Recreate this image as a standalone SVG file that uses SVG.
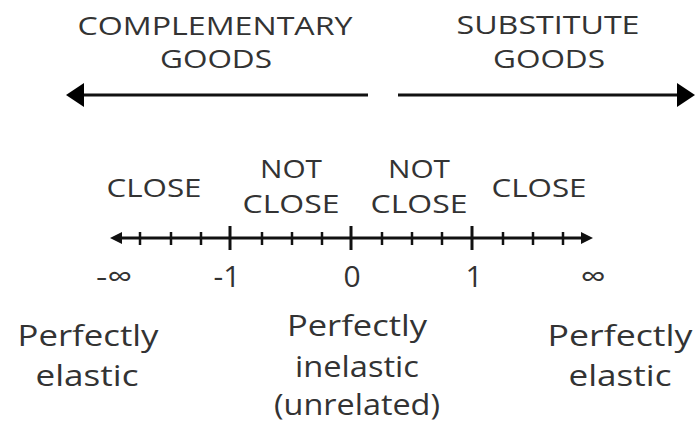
<svg xmlns="http://www.w3.org/2000/svg" width="695" height="425" viewBox="0 0 695 425">
<defs>
<style>
.cap{font-family:"Open Sans","DejaVu Sans",sans-serif;font-size:26px;fill:#333;text-anchor:middle}
.lbl{font-family:"Open Sans","DejaVu Sans",sans-serif;font-size:29px;fill:#333;text-anchor:middle}
.num{font-family:"Open Sans","DejaVu Sans",sans-serif;font-size:30px;fill:#333;text-anchor:middle}
.ln{stroke:#111;stroke-width:3;fill:none}
.tk{stroke:#111;stroke-width:2.5}
.tkM{stroke:#111;stroke-width:3}
</style>
<marker id="bigHead" viewBox="0 0 18 24" refX="0" refY="12" markerWidth="18" markerHeight="24" markerUnits="userSpaceOnUse" orient="auto">
<path d="M0,0 L18,12 L0,24 Z" fill="#000"/>
</marker>
<marker id="smallHead" viewBox="0 0 12 12" refX="0" refY="6" markerWidth="12" markerHeight="12" markerUnits="userSpaceOnUse" orient="auto">
<path d="M0,0 L12,6 L0,12 Z" fill="#111"/>
</marker>
</defs>
<rect width="695" height="425" fill="#fff"/>

<g id="complementary">
<text class="cap" x="215" y="35" textLength="275" lengthAdjust="spacingAndGlyphs">COMPLEMENTARY</text>
<text class="cap" x="216" y="68" textLength="112" lengthAdjust="spacingAndGlyphs">GOODS</text>
</g>
<g id="substitute">
<text class="cap" x="548" y="34" textLength="183" lengthAdjust="spacingAndGlyphs">SUBSTITUTE</text>
<text class="cap" x="549" y="68" textLength="112" lengthAdjust="spacingAndGlyphs">GOODS</text>
</g>

<g id="connectors">
<line class="ln" x1="368" y1="95" x2="84" y2="95" marker-end="url(#bigHead)"/>
<line class="ln" x1="398" y1="95" x2="677" y2="95" marker-end="url(#bigHead)"/>
<line class="ln" x1="351" y1="238" x2="122" y2="238" marker-end="url(#smallHead)"/>
<line class="ln" x1="351" y1="238" x2="581" y2="238" marker-end="url(#smallHead)"/>
</g>

<g id="ticks">
<line class="tk" x1="140" y1="232" x2="140" y2="245"/>
<line class="tk" x1="171" y1="232" x2="171" y2="245"/>
<line class="tk" x1="201" y1="232" x2="201" y2="245"/>
<line class="tkM" x1="230" y1="226" x2="230" y2="250"/>
<line class="tk" x1="262" y1="232" x2="262" y2="245"/>
<line class="tk" x1="292" y1="232" x2="292" y2="245"/>
<line class="tk" x1="322" y1="232" x2="322" y2="245"/>
<line class="tkM" x1="351" y1="226" x2="351" y2="250"/>
<line class="tk" x1="382" y1="232" x2="382" y2="245"/>
<line class="tk" x1="412" y1="232" x2="412" y2="245"/>
<line class="tk" x1="442" y1="232" x2="442" y2="245"/>
<line class="tkM" x1="472" y1="226" x2="472" y2="250"/>
<line class="tk" x1="503" y1="232" x2="503" y2="245"/>
<line class="tk" x1="533" y1="232" x2="533" y2="245"/>
<line class="tk" x1="563" y1="232" x2="563" y2="245"/>
</g>

<g id="close-left">
<text class="cap" x="154" y="197" textLength="95" lengthAdjust="spacingAndGlyphs">CLOSE</text>
</g>
<g id="notclose-left">
<text class="cap" x="291" y="178" textLength="62" lengthAdjust="spacingAndGlyphs">NOT</text>
<text class="cap" x="291" y="213" textLength="97" lengthAdjust="spacingAndGlyphs">CLOSE</text>
</g>
<g id="notclose-right">
<text class="cap" x="419" y="178" textLength="62" lengthAdjust="spacingAndGlyphs">NOT</text>
<text class="cap" x="419" y="213" textLength="97" lengthAdjust="spacingAndGlyphs">CLOSE</text>
</g>
<g id="close-right">
<text class="cap" x="539" y="197" textLength="95" lengthAdjust="spacingAndGlyphs">CLOSE</text>
</g>

<g id="numbers">
<text class="num" x="114" y="287" textLength="36" lengthAdjust="spacingAndGlyphs">-∞</text>
<text class="num" x="227" y="287">-1</text>
<text class="num" x="352" y="287">0</text>
<text class="num" x="474" y="287">1</text>
<text class="num" x="593" y="287" textLength="25" lengthAdjust="spacingAndGlyphs">∞</text>
</g>

<g id="elastic-left">
<text class="lbl" x="88" y="346" textLength="141" lengthAdjust="spacingAndGlyphs">Perfectly</text>
<text class="lbl" x="87" y="386" textLength="103" lengthAdjust="spacingAndGlyphs">elastic</text>
</g>
<g id="inelastic">
<text class="lbl" x="357" y="336" textLength="140" lengthAdjust="spacingAndGlyphs">Perfectly</text>
<text class="lbl" x="357" y="377" textLength="124" lengthAdjust="spacingAndGlyphs">inelastic</text>
<text class="lbl" x="357" y="415" textLength="166" lengthAdjust="spacingAndGlyphs">(unrelated)</text>
</g>
<g id="elastic-right">
<text class="lbl" x="620" y="346" textLength="145" lengthAdjust="spacingAndGlyphs">Perfectly</text>
<text class="lbl" x="620" y="386" textLength="103" lengthAdjust="spacingAndGlyphs">elastic</text>
</g>
</svg>
